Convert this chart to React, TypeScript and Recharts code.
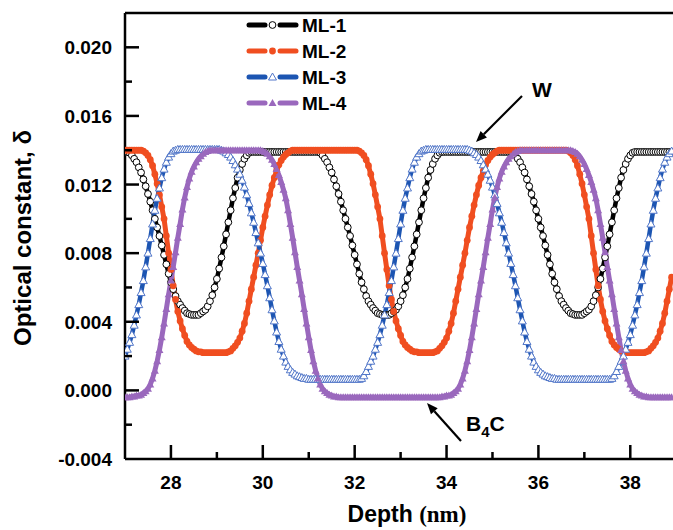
import React from "react";
import { LineChart, Line, XAxis, YAxis, ReferenceLine, Customized } from "recharts";

// depth grid: one value every 0.05 nm from 27.00 nm
const depthStart = 27;
const depthStep = 0.05;

// optical constant δ × 10^4, one row per nm (27.00 ... 38.90)
const ml1 = [
  139, 139, 138.5, 137, 135, 133, 130, 127, 123, 119, 114.5, 110, 105, 100, 95, 90, 84.5, 79, 73.5, 68,
  63, 59, 55, 52, 50, 48, 46.5, 45, 44.5, 44, 44, 44, 44, 45, 46, 47, 49, 52, 55.5, 60,
  65, 71, 77.5, 84, 91, 98, 105, 112, 118, 124, 128.5, 132, 135, 137, 138.5, 139, 139, 139, 139, 139,
  139, 139, 139, 139, 139, 139, 139, 139, 139, 139, 139, 139, 139, 139, 139, 139, 139, 139, 139, 139,
  139, 139, 139, 139, 139, 138.5, 137, 135, 133, 130, 127, 123, 119, 114.5, 110, 105, 100, 95, 90, 84.5,
  79, 73.5, 68, 63, 59, 55, 52, 50, 48, 46.5, 45, 44.5, 44, 44, 44, 44, 45, 46, 47, 49,
  52, 55.5, 60, 65, 71, 77.5, 84, 91, 98, 105, 112, 118, 124, 128.5, 132, 135, 137, 138.5, 139, 139,
  139, 139, 139, 139, 139, 139, 139, 139, 139, 139, 139, 139, 139, 139, 139, 139, 139, 139, 139, 139,
  139, 139, 139, 139, 139, 139, 139, 139, 139, 138.5, 137, 135, 133, 130, 127, 123, 119, 114.5, 110, 105,
  100, 95, 90, 84.5, 79, 73.5, 68, 63, 59, 55, 52, 50, 48, 46.5, 45, 44.5, 44, 44, 44, 44,
  45, 46, 47, 49, 52, 55.5, 60, 65, 71, 77.5, 84, 91, 98, 105, 112, 118, 124, 128.5, 132, 135,
  137, 138.5, 139, 139, 139, 139, 139, 139, 139, 139, 139, 139, 139, 139, 139, 139, 139, 139, 139,
];

const ml2 = [
  140, 140, 140, 140, 140, 140, 140, 140, 139.5, 138.5, 137, 134.5, 131, 126, 120.5, 114, 107, 100, 90, 80,
  70.5, 61, 53, 46, 40.5, 36, 32, 28.5, 26.5, 25, 24, 23, 22.5, 22.5, 22, 22, 22, 22, 22, 22,
  22, 22, 22, 22, 22, 22.5, 23, 24.5, 26, 28, 30.5, 34.5, 39, 45, 52, 59, 66, 73, 80, 87.5,
  95, 101.5, 108, 114, 119.5, 124, 128, 131.5, 134, 136, 137.5, 138.5, 139.5, 140, 140, 140, 140, 140, 140, 140,
  140, 140, 140, 140, 140, 140, 140, 140, 140, 140, 140, 140, 140, 140, 140, 140, 140, 140, 140, 140,
  140, 140, 139.5, 138.5, 137, 134.5, 131, 126, 120.5, 114, 107, 100, 90, 80, 70.5, 61, 53, 46, 40.5, 36,
  32, 28.5, 26.5, 25, 24, 23, 22.5, 22.5, 22, 22, 22, 22, 22, 22, 22, 22.5, 23, 24.5, 26, 28,
  30.5, 34.5, 39, 45, 52, 59, 66, 73, 80, 87.5, 95, 101.5, 108, 114, 119.5, 124, 128, 131.5, 134, 136,
  137.5, 138.5, 139.5, 140, 140, 140, 140, 140, 140, 140, 140, 140, 140, 140, 140, 140, 140, 140, 140, 140,
  140, 140, 140, 140, 140, 140, 140, 140, 140, 140, 140, 140, 140, 139.5, 138.5, 137, 134.5, 131, 126, 120.5,
  114, 107, 100, 90, 80, 70.5, 61, 53, 46, 40.5, 36, 32, 28.5, 26.5, 25, 24, 23, 22.5, 22.5, 22,
  22, 22, 22, 22, 22, 22, 22, 22.5, 23, 24.5, 26, 28, 30.5, 34.5, 39, 45, 52, 59, 66,
];

const ml3 = [
  20, 24, 28, 32.5, 38, 44, 50, 57, 64, 72, 80, 88.5, 97, 105, 112, 118, 124, 129, 133, 136,
  138, 139.5, 140, 140.5, 140.5, 140.5, 140.5, 140.5, 140.5, 140.5, 140.5, 140.5, 140.5, 140.5, 140.5, 140.5, 140.5, 140.5, 140.5, 140.5,
  140.5, 140.5, 140, 139.5, 138.5, 137.5, 136, 134, 131.5, 129, 126, 122.5, 118.5, 114, 109, 103.5, 98, 92, 86, 80,
  74, 67.5, 61, 54, 47, 40.5, 34, 28.5, 24, 20, 16.5, 14, 12, 10.5, 9.5, 8.5, 8, 7.5, 7, 7,
  6.5, 6.5, 6.5, 6.5, 6.5, 6.5, 6.5, 6.5, 6.5, 6.5, 6.5, 6.5, 6.5, 6.5, 6.5, 6.5, 6.5, 6.5, 6.5, 6.5,
  6.5, 6.5, 6.5, 7, 8.5, 11, 14, 17, 20, 24, 28, 32.5, 38, 44, 50, 57, 64, 72, 80, 88.5,
  97, 105, 112, 118, 124, 129, 133, 136, 138, 139.5, 140, 140.5, 140.5, 140.5, 140.5, 140.5, 140.5, 140.5, 140.5, 140.5,
  140.5, 140.5, 140.5, 140.5, 140.5, 140.5, 140.5, 140.5, 140.5, 140.5, 140, 139.5, 138.5, 137.5, 136, 134, 131.5, 129, 126, 122.5,
  118.5, 114, 109, 103.5, 98, 92, 86, 80, 74, 67.5, 61, 54, 47, 40.5, 34, 28.5, 24, 20, 16.5, 14,
  12, 10.5, 9.5, 8.5, 8, 7.5, 7, 7, 6.5, 6.5, 6.5, 6.5, 6.5, 6.5, 6.5, 6.5, 6.5, 6.5, 6.5, 6.5,
  6.5, 6.5, 6.5, 6.5, 6.5, 6.5, 6.5, 6.5, 6.5, 6.5, 6.5, 6.5, 7, 8.5, 11, 14, 17, 20, 24, 28,
  32.5, 38, 44, 50, 57, 64, 72, 80, 88.5, 97, 105, 112, 118, 124, 129, 133, 136, 138, 139.5,
];

const ml4 = [
  -4, -4, -4, -3.5, -3.5, -3, -3, -2.5, -1.5, -0.5, 1, 3.5, 7, 11.5, 17, 23.5, 31, 39, 47.5, 56,
  64, 72, 80.5, 89, 97, 105.5, 112.5, 118.5, 123.5, 127.5, 130.5, 133, 135, 136.5, 138, 139, 139.5, 140, 140, 140,
  140, 140, 140, 140, 140, 140, 140, 140, 140, 140, 140, 140, 140, 140, 140, 140, 140, 140, 140, 140,
  139.5, 139, 138, 136.5, 134.5, 132, 129, 125.5, 121.5, 117, 112, 105, 97, 89, 80.5, 72, 64, 56, 47.5, 39,
  31, 23.5, 17, 11.5, 7, 3.5, 1, -0.5, -1.5, -2.5, -3, -3.5, -3.5, -4, -4, -4, -4, -4, -4, -4,
  -4, -4, -4, -4, -4, -4, -4, -4, -4, -4, -4, -4, -4, -4, -4, -4, -4, -4, -4, -4,
  -4, -4, -4, -4, -4, -4, -4, -4, -4, -4, -4, -4, -4, -4, -4, -4, -4, -4, -3.5, -3.5,
  -3, -3, -2.5, -1.5, -0.5, 1, 3.5, 7, 11.5, 17, 23.5, 31, 39, 47.5, 56, 64, 72, 80.5, 89, 97,
  105.5, 112.5, 118.5, 123.5, 127.5, 130.5, 133, 135, 136.5, 138, 139, 139.5, 140, 140, 140, 140, 140, 140, 140, 140,
  140, 140, 140, 140, 140, 140, 140, 140, 140, 140, 140, 140, 140, 140, 140, 139.5, 139, 138, 136.5, 134.5,
  132, 129, 125.5, 121.5, 117, 112, 105, 97, 89, 80.5, 72, 64, 56, 47.5, 39, 31, 23.5, 17, 11.5, 7,
  3.5, 1, -0.5, -1.5, -2.5, -3, -3.5, -3.5, -4, -4, -4, -4, -4, -4, -4, -4, -4, -4, -4,
];

const seriesNames = ["ML-1", "ML-2", "ML-3", "ML-4"];
const xTicks = [27, 28, 29, 30, 31, 32, 33, 34, 35, 36, 37, 38, 39];
const yTicks = [-0.004, -0.002, 0, 0.002, 0.004, 0.006, 0.008, 0.01, 0.012, 0.014, 0.016, 0.018, 0.02, 0.022];

const data = ml1.map((v, i) => ({
  depth: +(depthStart + i * depthStep).toFixed(2),
  ml1: v / 1e4,
  ml2: ml2[i] / 1e4,
  ml3: ml3[i] / 1e4,
  ml4: ml4[i] / 1e4,
}));

const sans = "'Liberation Sans', Arial, Helvetica, sans-serif";
const serif = "'Liberation Serif', 'Times New Roman', serif";

const styles = [
  { key: "ml1", line: "#000000", width: 4.5, marker: "circle", fill: "#ffffff", stroke: "#000000" },
  { key: "ml2", line: "#f04e20", width: 5, marker: "circle", fill: "#f04e20", stroke: "none" },
  { key: "ml3", line: "#1c55b2", width: 4.5, marker: "triangle", fill: "#ffffff", stroke: "#5277c9" },
  { key: "ml4", line: "#9a68bd", width: 5, marker: "triangle", fill: "#9a68bd", stroke: "none" },
];

function marker(kind: string, cx: number, cy: number, fill: string, stroke: string, key?: any) {
  if (kind === "circle") {
    return <circle key={key} cx={cx} cy={cy} r={3.4} fill={fill} stroke={stroke} strokeWidth={1} />;
  }
  const s = 4;
  return (
    <path
      key={key}
      d={`M${cx},${cy - s} L${cx + s},${cy + s * 0.75} L${cx - s},${cy + s * 0.75} Z`}
      fill={fill}
      stroke={stroke}
      strokeWidth={1}
    />
  );
}

const makeDot = (st: any) => (p: any) => {
  if (p.cx == null || p.cy == null) return <g key={p.index} />;
  return marker(st.marker, p.cx, p.cy, st.fill, st.stroke, p.index);
};

function XTick(props: any) {
  const { x, y, payload } = props;
  const v = payload.value;
  if (v <= 27) return <g />;
  const major = v % 2 === 0;
  return (
    <g>
      <line x1={x} x2={x} y1={y} y2={y - (major ? 14 : 7)} stroke="#000" strokeWidth={2.5} />
      {major && (
        <text x={x} y={y + 30} textAnchor="middle" fontFamily={sans} fontWeight="bold" fontSize={19} fill="#000">
          {v}
        </text>
      )}
    </g>
  );
}

function YTick(props: any) {
  const { x, y, payload } = props;
  const v = payload.value;
  const k = Math.round(v * 1000);
  const major = k % 4 === 0;
  const onFrame = k === -4 || k === 22;
  return (
    <g>
      {!onFrame && <line x1={x} x2={x + (major ? 14 : 7)} y1={y} y2={y} stroke="#000" strokeWidth={2.5} />}
      {major && (
        <text x={x - 13} y={y + 7} textAnchor="end" fontFamily={sans} fontWeight="bold" fontSize={19} fill="#000">
          {v.toFixed(3)}
        </text>
      )}
    </g>
  );
}

function arrow(x1: number, y1: number, x2: number, y2: number) {
  const dx = x2 - x1;
  const dy = y2 - y1;
  const len = Math.hypot(dx, dy);
  const ux = dx / len;
  const uy = dy / len;
  const hl = 11;
  const hw = 4.5;
  const bx = x2 - ux * hl;
  const by = y2 - uy * hl;
  return (
    <g>
      <line x1={x1} y1={y1} x2={bx} y2={by} stroke="#000" strokeWidth={2.2} />
      <path d={`M${x2},${y2} L${bx - uy * hw},${by + ux * hw} L${bx + uy * hw},${by - ux * hw} Z`} fill="#000" />
    </g>
  );
}

function Overlay() {
  const rows = [25, 51, 77, 103];
  return (
    <g>
      {/* legend */}
      {styles.map((st, i) => (
        <g key={st.key}>
          <line x1={249} x2={265} y1={rows[i]} y2={rows[i]} stroke={st.line} strokeWidth={5} strokeLinecap="round" />
          <line x1={280} x2={296} y1={rows[i]} y2={rows[i]} stroke={st.line} strokeWidth={5} strokeLinecap="round" />
          {marker(st.marker, 272.5, rows[i], st.fill, st.stroke)}
          <text x={302} y={rows[i] + 7} fontFamily={sans} fontWeight="bold" fontSize={19} fill="#000">
            {seriesNames[i]}
          </text>
        </g>
      ))}
      {/* annotations */}
      <text x={542} y={97} textAnchor="middle" fontFamily={sans} fontWeight="bold" fontSize={21} fill="#000">
        W
      </text>
      {arrow(522, 96, 476, 142)}
      <text x={466} y={431} fontFamily={sans} fontWeight="bold" fontSize={21} fill="#000">
        B
        <tspan fontSize={15} dy={6}>4</tspan>
        <tspan fontSize={21} dy={-6}>C</tspan>
      </text>
      {arrow(461, 441, 427, 403)}
      {/* axis titles */}
      <text
        x={31}
        y={238}
        transform="rotate(-90, 31, 238)"
        textAnchor="middle"
        fontFamily={sans}
        fontWeight="bold"
        fontSize={24}
        fill="#000"
      >
        Optical constant, δ
      </text>
      <text x={407} y={522} textAnchor="middle" fontWeight="bold" fontSize={23} fill="#000">
        <tspan fontFamily={sans}>Depth </tspan>
        <tspan fontFamily={serif}>(nm)</tspan>
      </text>
    </g>
  );
}

export default function App() {
  return (
    <div style={{ position: "fixed", left: 0, top: 0, width: 673, height: 530, overflow: "hidden", background: "#fff" }}>
      <LineChart width={700} height={530} data={data} margin={{ top: 13, right: 10, bottom: 0, left: 0 }}>
        <XAxis
          type="number"
          dataKey="depth"
          domain={[27, 39.3]}
          ticks={xTicks}
          interval={0}
          allowDataOverflow
          height={71}
          tickLine={false}
          tickSize={0}
          tickMargin={0}
          tick={XTick}
          axisLine={{ stroke: "#000", strokeWidth: 2.5 }}
        />
        <YAxis
          type="number"
          domain={[-0.004, 0.022]}
          ticks={yTicks}
          interval={0}
          allowDataOverflow
          width={125}
          tickLine={false}
          tickSize={0}
          tickMargin={0}
          tick={YTick}
          axisLine={{ stroke: "#000", strokeWidth: 2.5 }}
        />
        <ReferenceLine y={0.022} stroke="#000" strokeWidth={2.5} />
        {styles.map((st) => (
          <Line
            key={st.key}
            dataKey={st.key}
            type="linear"
            stroke={st.line}
            strokeWidth={st.width}
            dot={makeDot(st)}
            activeDot={false}
            isAnimationActive={false}
          />
        ))}
        <Customized component={Overlay} />
      </LineChart>
    </div>
  );
}
